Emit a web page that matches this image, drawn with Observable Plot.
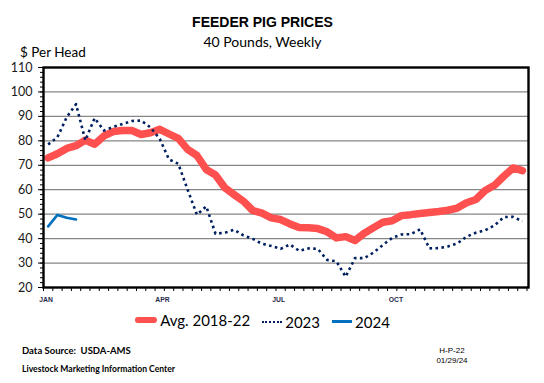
<!DOCTYPE html>
<html>
<head>
<meta charset="utf-8">
<script src="https://cdn.jsdelivr.net/npm/d3@7"></script>
<script src="https://cdn.jsdelivr.net/npm/@observablehq/plot@0.6"></script>
<style>
  html, body { margin: 0; padding: 0; background: #fff; }
  #wrap { position: relative; width: 544px; height: 383px; overflow: hidden; background: #fff; }
  #chart { position: absolute; left: 0; top: 0; }
  .t { position: absolute; white-space: nowrap; color: #000; }
  #title { left: 0; width: 525px; top: 14px; text-align: center; font: bold 14px "Liberation Sans", Arial, sans-serif; }
  #subtitle { left: 0; width: 525px; top: 33px; text-align: center; font: 14px Lato, sans-serif; }
  #ylab { left: 20px; top: 44px; font: 13.5px Lato, sans-serif; }
  #legend { left: 0; width: 525px; top: 308px; text-align: center; font: 15px Lato, sans-serif; }
  #legend span.item { display: inline-flex; align-items: center; margin: 0 6px; }
  .sw { display: inline-block; margin-right: 3px; }
  #src { left: 22px; top: 345px; font: bold 9.5px Lato, sans-serif; }
  #lmic { left: 22px; top: 364px; font: bold 8.6px Lato, sans-serif; }
  #code { left: 430px; width: 44px; top: 346px; text-align: center; font: 8px "Liberation Sans", Arial, sans-serif; line-height: 9.5px; }
</style>
</head>
<body>
<div id="wrap">
  <div id="chart"></div>
  <div class="t" id="title">FEEDER PIG PRICES</div>
  <div class="t" id="subtitle">40 Pounds, Weekly</div>
  <div class="t" id="ylab">$ Per Head</div>
  <div class="t" id="legend"></div>
  <div class="t" id="src">Data Source:&nbsp; USDA-AMS</div>
  <div class="t" id="lmic">Livestock Marketing Information Center</div>
  <div class="t" id="code">H-P-22<br>01/29/24</div>
</div>
<script>
// ---- data ----
const seriesNames = ["Avg. 2018-22", "2023", "2024"];
const avg2018_22 = [73.0, 74.7, 76.9, 78.0, 80.3, 78.6, 82.0, 83.8, 84.2, 84.2,
  82.6, 83.3, 84.7, 82.8, 81.0, 76.5, 74.0, 68.3, 66.0, 60.8,
  58.0, 55.3, 51.5, 50.4, 48.5, 47.8, 46.0, 44.5, 44.4, 44.1,
  42.8, 40.3, 40.8, 39.2, 42.2, 44.5, 46.7, 47.3, 49.4, 49.8,
  50.3, 50.7, 51.1, 51.6, 52.5, 54.7, 56.0, 59.7, 61.8, 65.5,
  68.9, 67.8];
const y2023 = [78.5, 81.5, 89.7, 95.0, 80.2, 89.3, 84.2, 85.7, 86.9, 88.1,
  88.3, 85.5, 80.8, 72.4, 70.6, 60.0, 49.8, 53.2, 42.0, 42.4,
  43.6, 41.3, 39.9, 37.9, 37.0, 35.8, 37.6, 35.0, 36.0, 35.8,
  31.3, 30.7, 24.4, 32.0, 32.0, 34.3, 37.4, 40.3, 41.7, 41.8,
  43.8, 36.0, 36.1, 36.8, 38.0, 40.8, 42.4, 43.4, 45.4, 48.8,
  48.9, 47.1];
const y2024 = [45.0, 49.7, 48.5, 47.8];
const monthLabels = ["JAN", "APR", "JUL", "OCT"];
const monthWeeks = [0.77, 13.3, 25.8, 38.4];
const yTicks = [20, 30, 40, 50, 60, 70, 80, 90, 100, 110];

// ---- build ----
const toRows = arr => arr.map((v, i) => ({week: i + 1, value: v}));
const colors = {"Avg. 2018-22": "#ff5050", "2023": "#002060", "2024": "#0070c0"};

const chart = Plot.plot({
  width: 544,
  height: 310,
  marginLeft: 43,
  marginRight: 16,
  marginTop: 67,
  marginBottom: 23,
  style: {fontFamily: "Lato, sans-serif", fontSize: "12.5px", color: "#1a1a1a", background: "transparent", overflow: "visible"},
  x: {domain: [0.5, 52.66], label: null},
  y: {domain: [20, 110], label: null},
  marks: [
    Plot.gridY(yTicks.filter(d => d > 20 && d < 110), {stroke: "#868686", strokeOpacity: 1, strokeWidth: 1.2}),
    Plot.line(toRows(avg2018_22), {x: "week", y: "value", stroke: colors["Avg. 2018-22"], strokeWidth: 7.5, strokeLinecap: "round", strokeLinejoin: "round"}),
    Plot.line(toRows(y2023), {x: "week", y: "value", stroke: colors["2023"], strokeWidth: 2.6, strokeDasharray: "2.6 3.4", strokeLinecap: "butt"}),
    Plot.line(toRows(y2024), {x: "week", y: "value", stroke: colors["2024"], strokeWidth: 2.6, strokeLinejoin: "round"}),
    Plot.axisY(d3.range(20, 111, 2), {tickSize: 3, tickFormat: () => "", stroke: "#000", label: null}),
    Plot.axisY(yTicks, {tickSize: 5, tickPadding: 6, stroke: "#000", fill: "#1a1a1a", fontSize: 12.5, label: null}),
    Plot.axisX(d3.range(0.5, 53, 1), {tickSize: 4, tickFormat: () => "", stroke: "#000", label: null}),
    Plot.text(monthLabels.map((m, i) => ({label: m, week: monthWeeks[i]})), {x: "week", y: () => 20, text: "label", dy: 12, fontSize: 6.8, fontWeight: "bold", fontFamily: "Liberation Sans, Arial, sans-serif", fill: "#1f2a4a"}),
    Plot.frame({stroke: "#000", strokeWidth: 2.4})
  ]
});
document.getElementById("chart").appendChild(chart);

// ---- legend ----
const legend = document.getElementById("legend");
const swatchStyle = {
  "Avg. 2018-22": "width:22px;height:6px;background:#ff5050;border-radius:3px;",
  "2023": "width:20px;height:0;border-top:2.6px dotted #002060;",
  "2024": "width:20px;height:3px;background:#0070c0;"
};
seriesNames.forEach(n => {
  const item = document.createElement("span");
  item.className = "item";
  const sw = document.createElement("span");
  sw.className = "sw";
  sw.style.cssText = swatchStyle[n];
  item.appendChild(sw);
  item.appendChild(document.createTextNode(n));
  legend.appendChild(item);
});
</script>
</body>
</html>
